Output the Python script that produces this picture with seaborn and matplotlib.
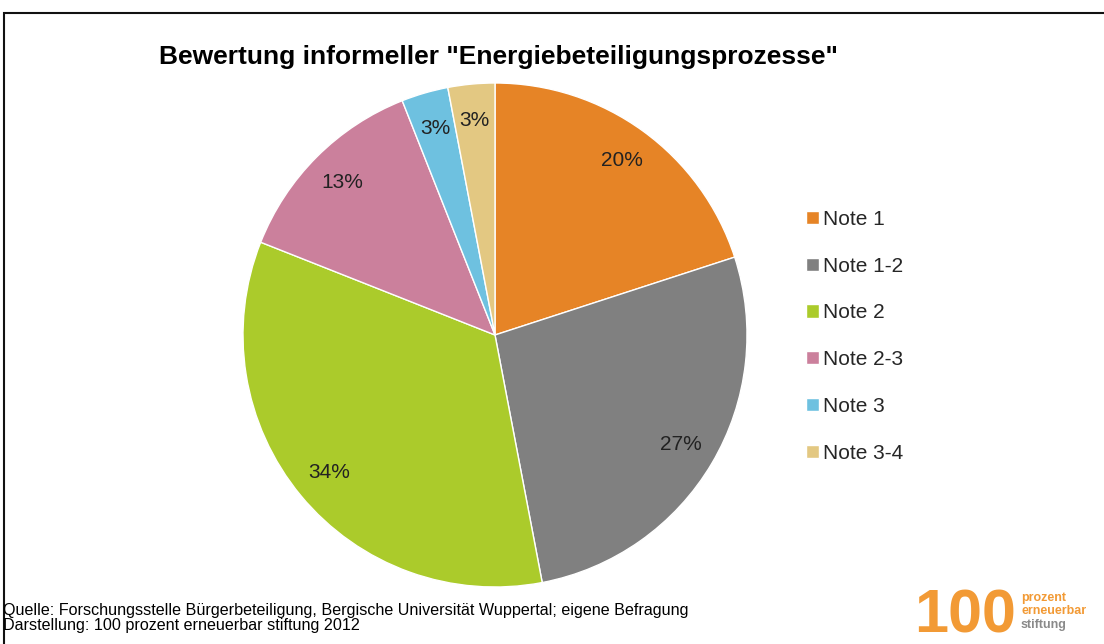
import matplotlib
matplotlib.use("Agg")
import matplotlib.pyplot as plt
import seaborn as sns
from matplotlib.patches import Rectangle

categories = ["Note 1", "Note 1-2", "Note 2", "Note 2-3", "Note 3", "Note 3-4"]
values = [20, 27, 34, 13, 3, 3]
colors = ["#E68426", "#808080", "#ABCB2B", "#CB809C", "#6EC1E0", "#E3C882"]
title = 'Bewertung informeller "Energiebeteiligungsprozesse"'
footer = ["Quelle: Forschungsstelle Bürgerbeteiligung, Bergische Universität Wuppertal; eigene Befragung",
          "Darstellung: 100 prozent erneuerbar stiftung 2012"]

sns.set_theme(style="white")
plt.rcParams['font.family'] = ['Liberation Sans', 'DejaVu Sans']

W, H = 1104, 644
fig = plt.figure(figsize=(W / 100, H / 100), dpi=100)
fig.patch.set_facecolor("white")

cx, cy, r = 495, 335, 252
ax = fig.add_axes([(cx - r) / W, 1 - (cy + r) / H, 2 * r / W, 2 * r / H])
palette = sns.color_palette(colors)
wedges, texts, autotexts = ax.pie(
    values, colors=palette, startangle=90, counterclock=False,
    autopct=lambda p: f"{p:.0f}%", pctdistance=0.855,
    wedgeprops=dict(edgecolor="white", linewidth=1.0),
    textprops=dict(fontsize=15, color="#222222"))
ax.set_aspect("equal")
ax.set_xlim(-1, 1)
ax.set_ylim(-1, 1)
ax.axis("off")

fig.text(498 / W, 1 - 57 / H, title, ha="center", va="center",
         fontsize=19, fontweight="bold", color="black")

leg = fig.legend(wedges, categories, loc="upper left",
                 bbox_to_anchor=(806 / W, 1 - 210 / H), frameon=False,
                 fontsize=15, handlelength=0.6, handleheight=0.6,
                 handletextpad=0.2, labelspacing=1.33, borderaxespad=0,
                 borderpad=0)

for i, line in enumerate(footer):
    fig.text(3 / W, 1 - (610 + i * 15.5) / H, line, ha="left", va="center",
             fontsize=11.6, color="black")

# logo
fig.text(914 / W, 1 - 617 / H, "100", ha="left", va="center", fontsize=44,
         fontweight="bold", color="#F29A35")
fig.text(1021 / W, 1 - 598 / H, "prozent", ha="left", va="center", fontsize=9,
         fontweight="bold", color="#F29A35")
fig.text(1021 / W, 1 - 611 / H, "erneuerbar", ha="left", va="center", fontsize=9,
         fontweight="bold", color="#F29A35")
fig.text(1021 / W, 1 - 625 / H, "stiftung", ha="left", va="center", fontsize=9,
         fontweight="bold", color="#8A8A8A")

# frame
fig.add_artist(Rectangle((4 / W, -0.05), 1.2, 1 - 13 / H + 0.05,
                         transform=fig.transFigure, fill=False,
                         edgecolor="#111111", linewidth=1.5))

fig.savefig("out.png", dpi=100)
